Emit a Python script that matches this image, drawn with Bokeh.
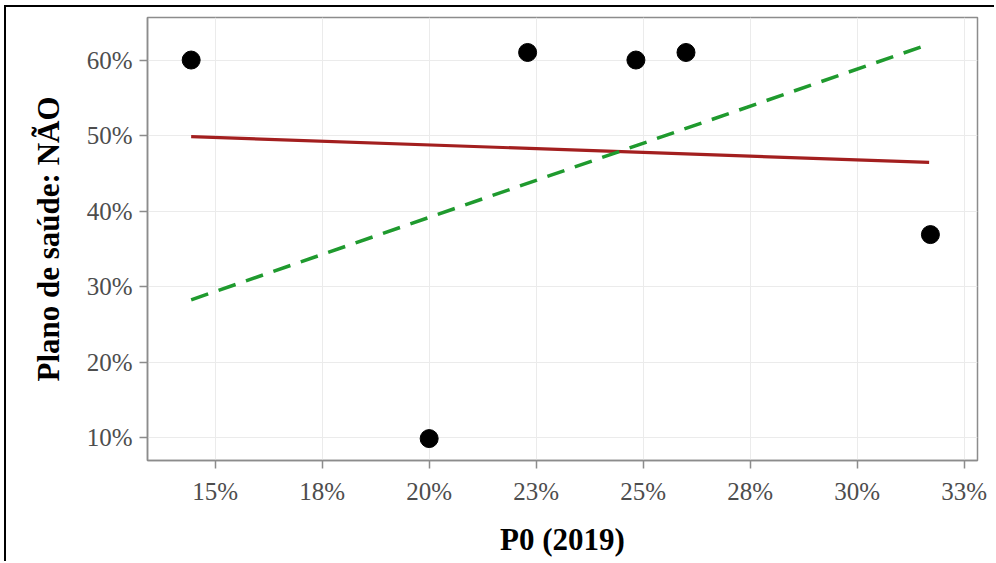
from bokeh.plotting import figure
from bokeh.models import Range1d, FixedTicker
from bokeh.embed import file_html
from bokeh.resources import INLINE

# data
p0_2019 = [0.1444, 0.200, 0.2230, 0.2483, 0.2600, 0.3171]
plano_nao = [0.600, 0.099, 0.610, 0.600, 0.610, 0.369]

fit_x = [0.1444, 0.3168]
fit_red_y = [0.4986, 0.4646]
fit_green_y = [0.2826, 0.6210]

x_ticks = [0.15, 0.175, 0.20, 0.225, 0.25, 0.275, 0.30, 0.325]
x_labels = ["15%", "18%", "20%", "23%", "25%", "28%", "30%", "33%"]
y_ticks = [0.1, 0.2, 0.3, 0.4, 0.5, 0.6]
y_labels = ["10%", "20%", "30%", "40%", "50%", "60%"]

SERIF = "Liberation Serif"

p = figure(width=990, height=556, output_backend="svg", toolbar_location=None,
           x_range=Range1d(0.1342, 0.3281), y_range=Range1d(0.0700, 0.6563),
           min_border_left=141, min_border_right=19, min_border_top=10, min_border_bottom=103)

p.styles = {"border-left": "2px solid black", "border-top": "2px solid black",
            "margin-left": "4px", "margin-top": "5px"}

p.outline_line_color = "#8c8c8c"
p.outline_line_width = 1.5
p.background_fill_color = "white"
p.border_fill_color = "white"

for ax in (p.xaxis[0], p.yaxis[0]):
    ax.axis_line_color = "#8c8c8c"
    ax.axis_line_width = 1.5
    ax.major_tick_line_color = "#8c8c8c"
    ax.major_tick_line_width = 1.5
    ax.major_tick_out = 8
    ax.major_tick_in = 0
    ax.minor_tick_out = 0
    ax.minor_tick_in = 0
    ax.major_label_text_font = SERIF
    ax.major_label_text_font_size = "25px"
    ax.major_label_text_color = "#4d4d4d"
    ax.axis_label_text_font = SERIF
    ax.axis_label_text_font_style = "bold"
    ax.axis_label_text_font_size = "31px"
    ax.axis_label_text_color = "black"

p.xaxis[0].ticker = FixedTicker(ticks=x_ticks)
p.yaxis[0].ticker = FixedTicker(ticks=y_ticks)
p.xaxis[0].major_label_overrides = dict(zip(x_ticks, x_labels))
p.yaxis[0].major_label_overrides = dict(zip(y_ticks, y_labels))
p.xaxis[0].major_label_standoff = 9
p.yaxis[0].major_label_standoff = 7
p.xaxis[0].axis_label = "P0 (2019)"
p.yaxis[0].axis_label = "Plano de saúde: NÃO"
p.xaxis[0].axis_label_standoff = 14
p.yaxis[0].axis_label_standoff = 18

p.xgrid[0].ticker = FixedTicker(ticks=x_ticks)
p.ygrid[0].ticker = FixedTicker(ticks=y_ticks)
p.grid.grid_line_color = "#ebebeb"
p.grid.grid_line_width = 1

p.line(fit_x, fit_red_y, line_color="#a31f1f", line_width=3.2)
p.line(fit_x, fit_green_y, line_color="#1f9a2e", line_width=3.5, line_dash="18 11")
p.scatter(p0_2019, plano_nao, size=18, fill_color="black", line_color="black")

open("out.html", "w").write(file_html(p, INLINE))
